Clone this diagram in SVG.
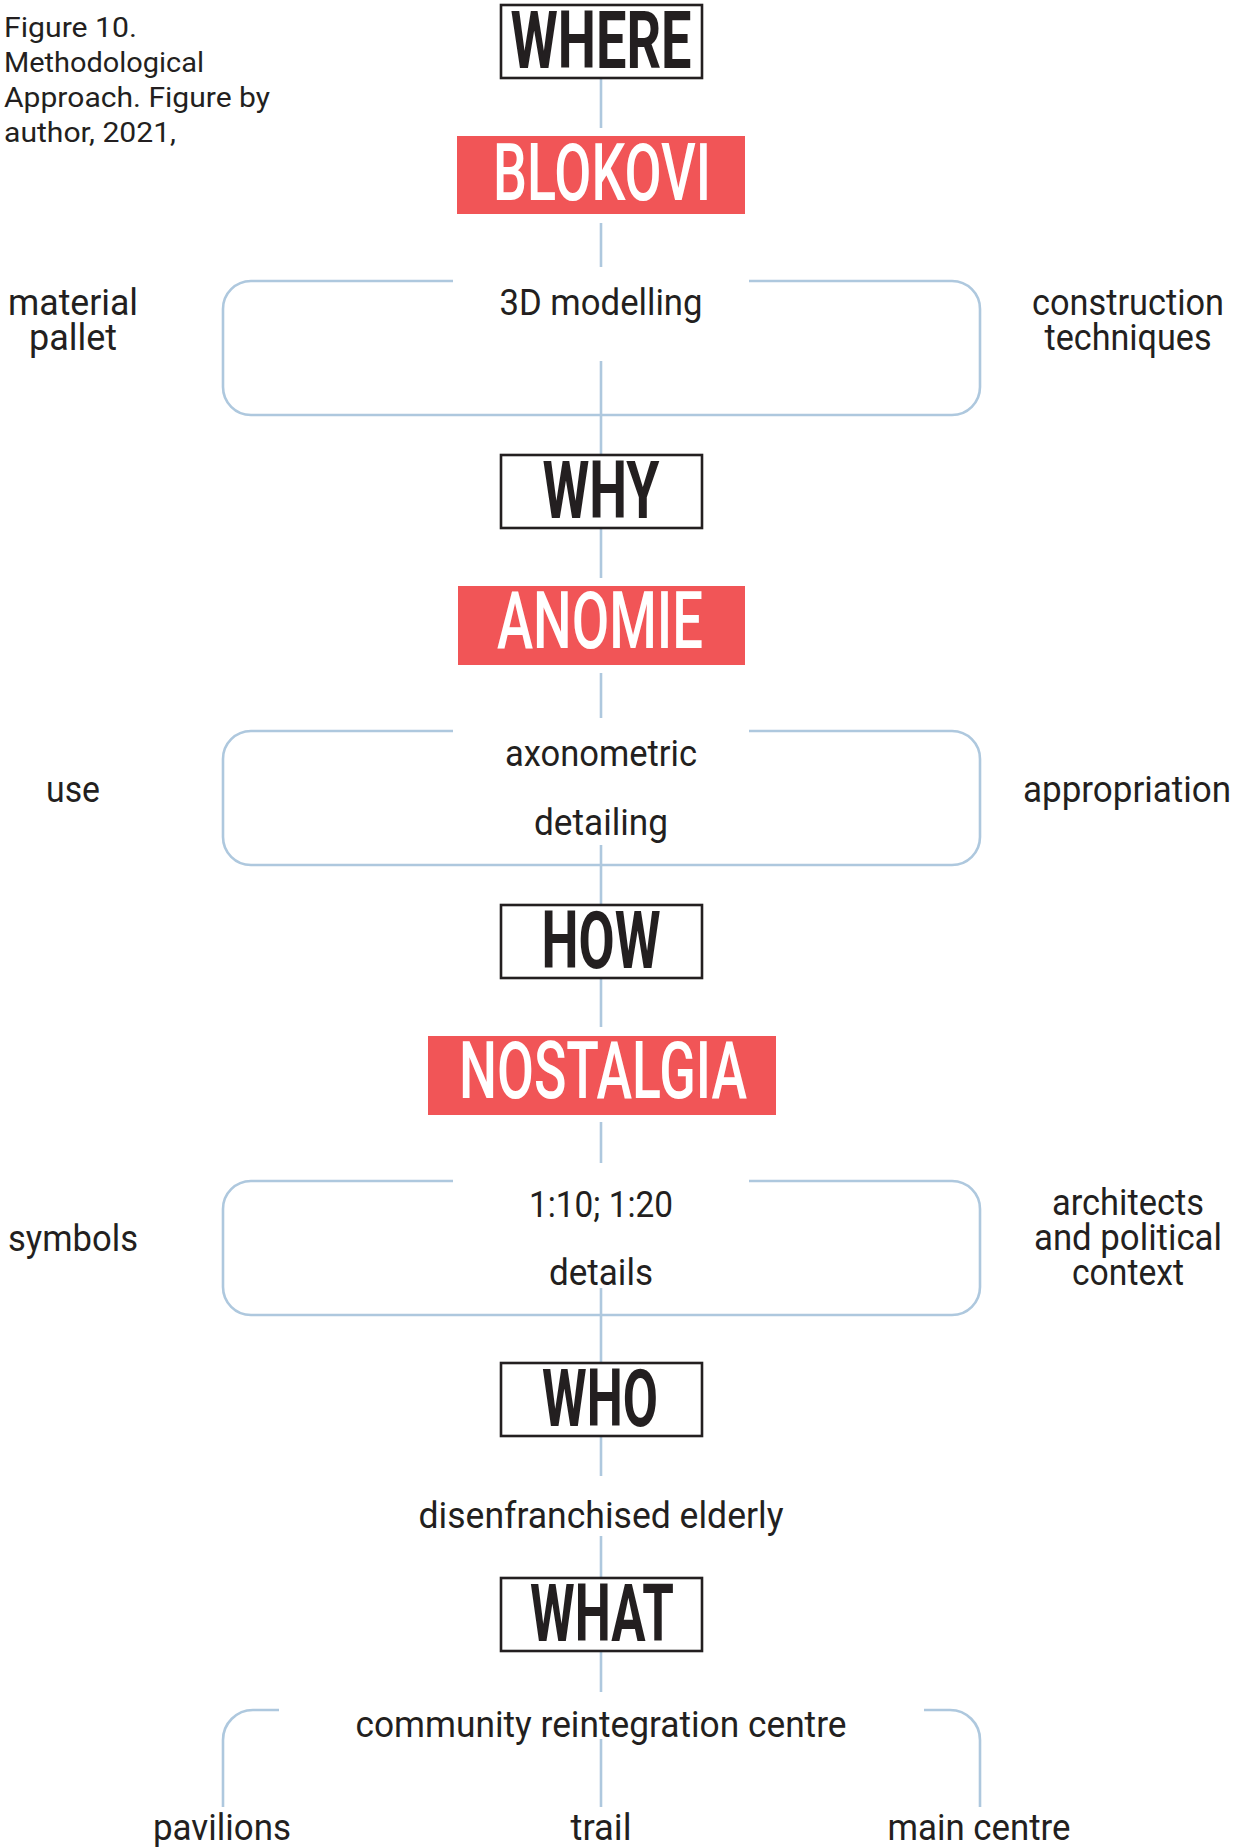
<svg xmlns="http://www.w3.org/2000/svg" width="1236" height="1847" viewBox="0 0 1236 1847">
<style>
.bg{fill:#ffffff}
.q{fill:#ffffff;stroke:#231f20;stroke-width:2.6}
.r{fill:#f15557}
.qt{font-family:Roboto,"DejaVu Sans",sans-serif;font-weight:700;font-size:79px;fill:#231f20;text-anchor:middle}
.rt{font-family:Roboto,"DejaVu Sans",sans-serif;font-weight:500;font-size:80px;fill:#ffffff;text-anchor:middle}
.t{font-family:Roboto,"DejaVu Sans",sans-serif;font-size:36px;fill:#231f20;text-anchor:middle}
.cap{font-family:Roboto,"DejaVu Sans",sans-serif;font-size:28px;fill:#231f20}
.c{fill:none;stroke:#aec8de;stroke-width:2.6}
</style>
<rect class="bg" x="0" y="0" width="1236" height="1847"/>
<g id="caption">
<text class="cap" x="4" y="37" textLength="133" lengthAdjust="spacingAndGlyphs">Figure 10.</text>
<text class="cap" x="4" y="72" textLength="200" lengthAdjust="spacingAndGlyphs">Methodological</text>
<text class="cap" x="4" y="107" textLength="266" lengthAdjust="spacingAndGlyphs">Approach. Figure by</text>
<text class="cap" x="4" y="142" textLength="172" lengthAdjust="spacingAndGlyphs">author, 2021,</text>
</g>
<g id="connectors">
<path class="c" d="M601,78V128 M601,223V267 M601,361V455 M601,528V578 M601,673V718 M601,845V905 M601,978V1027 M601,1122V1163 M601,1288V1363 M601,1436V1476 M601,1536V1578 M601,1651V1692 M601,1739V1807"/>
<path class="c" d="M453,281H251A28,28 0 0 0 223,309V387A28,28 0 0 0 251,415H952A28,28 0 0 0 980,387V309A28,28 0 0 0 952,281H749"/>
<path class="c" d="M453,731H251A28,28 0 0 0 223,759V837A28,28 0 0 0 251,865H952A28,28 0 0 0 980,837V759A28,28 0 0 0 952,731H749"/>
<path class="c" d="M453,1181H251A28,28 0 0 0 223,1209V1287A28,28 0 0 0 251,1315H952A28,28 0 0 0 980,1287V1209A28,28 0 0 0 952,1181H749"/>
<path class="c" d="M279,1710H253A30,30 0 0 0 223,1740V1807"/>
<path class="c" d="M924,1710H950A30,30 0 0 1 980,1740V1807"/>
</g>
<g id="where"><rect class="q" x="501" y="5" width="201" height="73"/><text class="qt" x="601" y="68" textLength="181" lengthAdjust="spacingAndGlyphs">WHERE</text></g>
<g id="blokovi"><rect class="r" x="457" y="136" width="288" height="78"/><text class="rt" x="602" y="200" textLength="218" lengthAdjust="spacingAndGlyphs">BLOKOVI</text></g>
<g id="modelling">
<text class="t" x="601" y="315" textLength="203" lengthAdjust="spacingAndGlyphs">3D modelling</text>
</g>
<g id="material"><text class="t" x="73" y="315" textLength="130" lengthAdjust="spacingAndGlyphs">material</text><text class="t" x="73" y="350" textLength="88" lengthAdjust="spacingAndGlyphs">pallet</text></g>
<g id="construction"><text class="t" x="1128" y="315" textLength="192" lengthAdjust="spacingAndGlyphs">construction</text><text class="t" x="1128" y="350" textLength="167" lengthAdjust="spacingAndGlyphs">techniques</text></g>
<g id="why"><rect class="q" x="501" y="455" width="201" height="73"/><text class="qt" x="601" y="518" textLength="117" lengthAdjust="spacingAndGlyphs">WHY</text></g>
<g id="anomie"><rect class="r" x="458" y="586" width="287" height="79"/><text class="rt" x="600" y="648" textLength="206" lengthAdjust="spacingAndGlyphs">ANOMIE</text></g>
<g id="axonometric">
<text class="t" x="601" y="766" textLength="192" lengthAdjust="spacingAndGlyphs">axonometric</text>
<text class="t" x="601" y="835" textLength="134" lengthAdjust="spacingAndGlyphs">detailing</text>
</g>
<g id="use"><text class="t" x="73" y="802" textLength="54" lengthAdjust="spacingAndGlyphs">use</text></g>
<g id="appropriation"><text class="t" x="1127" y="802" textLength="208" lengthAdjust="spacingAndGlyphs">appropriation</text></g>
<g id="how"><rect class="q" x="501" y="905" width="201" height="73"/><text class="qt" x="601" y="968" textLength="119" lengthAdjust="spacingAndGlyphs">HOW</text></g>
<g id="nostalgia"><rect class="r" x="428" y="1036" width="348" height="79"/><text class="rt" x="603" y="1098" textLength="288" lengthAdjust="spacingAndGlyphs">NOSTALGIA</text></g>
<g id="scale">
<text class="t" x="601" y="1217" textLength="144" lengthAdjust="spacingAndGlyphs">1:10; 1:20</text>
<text class="t" x="601" y="1285" textLength="104" lengthAdjust="spacingAndGlyphs">details</text>
</g>
<g id="symbols"><text class="t" x="73" y="1251" textLength="130" lengthAdjust="spacingAndGlyphs">symbols</text></g>
<g id="architects"><text class="t" x="1128" y="1215" textLength="152" lengthAdjust="spacingAndGlyphs">architects</text><text class="t" x="1128" y="1250" textLength="188" lengthAdjust="spacingAndGlyphs">and political</text><text class="t" x="1128" y="1285" textLength="112" lengthAdjust="spacingAndGlyphs">context</text></g>
<g id="who"><rect class="q" x="501" y="1363" width="201" height="73"/><text class="qt" x="600" y="1426" textLength="116" lengthAdjust="spacingAndGlyphs">WHO</text></g>
<g id="elderly"><text class="t" x="601" y="1528" textLength="365" lengthAdjust="spacingAndGlyphs">disenfranchised elderly</text></g>
<g id="what"><rect class="q" x="501" y="1578" width="201" height="73"/><text class="qt" x="602" y="1641" textLength="144" lengthAdjust="spacingAndGlyphs">WHAT</text></g>
<g id="centre"><text class="t" x="601" y="1737" textLength="491" lengthAdjust="spacingAndGlyphs">community reintegration centre</text></g>
<g id="pavilions"><text class="t" x="222" y="1840" textLength="138" lengthAdjust="spacingAndGlyphs">pavilions</text></g>
<g id="trail"><text class="t" x="601" y="1840" textLength="61" lengthAdjust="spacingAndGlyphs">trail</text></g>
<g id="maincentre"><text class="t" x="979" y="1840" textLength="183" lengthAdjust="spacingAndGlyphs">main centre</text></g>
</svg>
